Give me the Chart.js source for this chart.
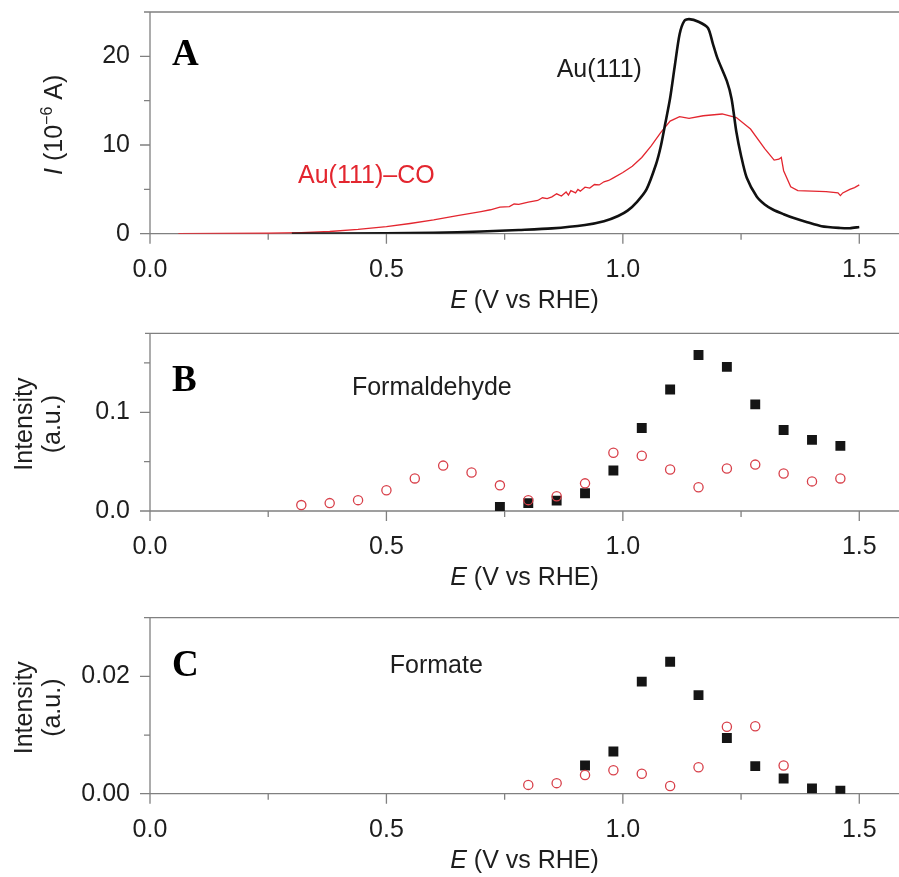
<!DOCTYPE html>
<html>
<head>
<meta charset="utf-8">
<script src="https://cdn.jsdelivr.net/npm/chart.js@4.4.1/dist/chart.umd.min.js"></script>
<style>
  html, body { margin: 0; padding: 0; background: #fff; }
  #fig { position: relative; width: 899px; height: 877px; }
  #fig canvas { position: absolute; left: 0; }
</style>
</head>
<body>
<div id="fig">
  <canvas id="panelA" width="899" height="320" style="top:0"></canvas>
  <canvas id="panelB" width="899" height="280" style="top:320px"></canvas>
  <canvas id="panelC" width="899" height="277" style="top:600px"></canvas>
</div>
<script>
// Panel A: current vs potential (10^-6 A)
const auE = [0.30, 0.50, 0.60, 0.70, 0.78, 0.85, 0.92, 0.96, 0.99, 1.01, 1.03, 1.05, 1.07, 1.08, 1.09, 1.10,
  1.11, 1.12, 1.13, 1.14, 1.16, 1.18, 1.19, 1.20, 1.22, 1.23, 1.24, 1.25, 1.262, 1.283, 1.30, 1.318,
  1.34, 1.36, 1.39, 1.42, 1.46, 1.48, 1.50];
const auI = [0.0, 0.05, 0.1, 0.25, 0.42, 0.6, 0.98, 1.4, 2.0, 2.6, 3.6, 5.0, 7.8, 9.8, 12.5, 15.3,
  19.0, 22.5, 24.0, 24.2, 23.9, 23.2, 21.5, 19.8, 17.2, 15.2, 11.5, 8.8, 6.3, 4.2, 3.3, 2.7,
  2.2, 1.8, 1.3, 0.85, 0.65, 0.62, 0.75];

const coE = [0.06, 0.15, 0.25, 0.32, 0.38, 0.44, 0.50, 0.55, 0.60, 0.65, 0.70, 0.72, 0.74, 0.76, 0.77,
  0.78, 0.80, 0.82, 0.83, 0.84, 0.85, 0.86, 0.87, 0.88, 0.885, 0.89, 0.90, 0.905, 0.91, 0.92, 0.93,
  0.94, 0.95, 0.96, 0.97, 0.98, 1.00, 1.02, 1.04, 1.06, 1.08, 1.10, 1.12, 1.14, 1.17, 1.21, 1.24,
  1.27, 1.30, 1.32, 1.33, 1.335, 1.34, 1.355, 1.37, 1.40, 1.43, 1.455, 1.46, 1.465, 1.48, 1.49, 1.50];
const coI = [0.0, 0.02, 0.05, 0.12, 0.25, 0.48, 0.80, 1.15, 1.55, 2.05, 2.5, 2.7, 3.0, 3.05, 3.35,
  3.3, 3.55, 3.75, 4.05, 3.95, 4.15, 4.5, 4.25, 4.7, 4.35, 4.85, 4.6, 5.0, 4.8, 5.25, 5.15,
  5.55, 5.5, 5.85, 6.0, 6.3, 6.9, 7.6, 8.6, 9.9, 11.4, 12.7, 13.2, 13.0, 13.3, 13.5, 13.1,
  11.8, 9.6, 8.3, 8.4, 8.6, 7.1, 5.3, 4.85, 4.8, 4.75, 4.6, 4.3, 4.6, 5.0, 5.2, 5.5];

// Panel B: formaldehyde intensity
const hchoCoE = [0.32, 0.38, 0.44, 0.50, 0.56, 0.62, 0.68, 0.74, 0.80, 0.86, 0.92, 0.98, 1.04, 1.10,
  1.16, 1.22, 1.28, 1.34, 1.40, 1.46];
const hchoCo = [0.006, 0.008, 0.011, 0.021, 0.033, 0.046, 0.039, 0.026, 0.011, 0.015, 0.028, 0.059,
  0.056, 0.042, 0.024, 0.043, 0.047, 0.038, 0.030, 0.033];
const hchoAuE = [0.74, 0.80, 0.86, 0.92, 0.98, 1.04, 1.10, 1.16, 1.22, 1.28, 1.34, 1.40, 1.46];
const hchoAu = [0.004, 0.008, 0.0105, 0.018, 0.041, 0.084, 0.123, 0.158, 0.146, 0.108, 0.082, 0.072, 0.066];

// Panel C: formate intensity
const hcooCoE = [0.80, 0.86, 0.92, 0.98, 1.04, 1.10, 1.16, 1.22, 1.28, 1.34];
const hcooCo = [0.0015, 0.0018, 0.0032, 0.0040, 0.0034, 0.0013, 0.0045, 0.0114, 0.0115, 0.0048];
const hcooAuE = [0.92, 0.98, 1.04, 1.10, 1.16, 1.22, 1.28, 1.34, 1.40, 1.46];
const hcooAu = [0.0048, 0.0072, 0.0191, 0.0225, 0.0168, 0.0095, 0.0047, 0.0026, 0.0009, 0.0005];

const SANS = '"Liberation Sans", Arial, Helvetica, sans-serif';
const SERIF = '"Liberation Serif", "Times New Roman", serif';
const AXIS = '#808080';
const INK = '#1e1e1e';
const RED = '#e3262f';
const FS = 25;

function pairs(xs, ys) {
  return xs.map((x, i) => ({ x: x, y: ys[i] }));
}

function near(v, step) {
  return Math.abs(v / step - Math.round(v / step)) < 1e-6;
}

// draws a run of mixed-style text centred on x, baseline y
function drawRuns(ctx, runs, x, y) {
  let total = 0;
  runs.forEach(r => { ctx.font = r.font; r.w = ctx.measureText(r.text).width; total += r.w; });
  let cx = x - total / 2;
  ctx.textAlign = 'left';
  ctx.textBaseline = 'alphabetic';
  runs.forEach(r => { ctx.font = r.font; ctx.fillText(r.text, cx, y - (r.rise || 0)); cx += r.w; });
}

const xTitle = [
  { text: 'E', font: `italic ${FS}px ${SANS}` },
  { text: ' (V vs RHE)', font: `${FS}px ${SANS}` }
];

function decorPlugin(d) {
  return {
    id: 'decor',
    beforeDatasetsDraw(chart) {
      const ctx = chart.ctx, a = chart.chartArea, xs = chart.scales.x, ys = chart.scales.y;
      ctx.save();
      ctx.strokeStyle = AXIS;
      ctx.lineWidth = 1.3;
      ctx.beginPath();
      ctx.moveTo(a.left - 5, a.top); ctx.lineTo(a.right, a.top);
      ctx.moveTo(a.left, a.top); ctx.lineTo(a.left, a.bottom);
      ctx.moveTo(a.left, a.bottom); ctx.lineTo(a.right, a.bottom);
      xs.ticks.forEach(t => {
        const p = xs.getPixelForValue(t.value);
        ctx.moveTo(p, a.bottom); ctx.lineTo(p, a.bottom + (t.label ? 10 : 6));
      });
      ys.ticks.forEach(t => {
        const p = ys.getPixelForValue(t.value);
        ctx.moveTo(a.left, p); ctx.lineTo(a.left - (t.label ? 10 : 6), p);
      });
      ctx.stroke();
      ctx.restore();
    },
    afterDraw(chart) {
      const ctx = chart.ctx, a = chart.chartArea, xs = chart.scales.x, ys = chart.scales.y;
      ctx.save();
      // panel letter
      ctx.fillStyle = '#000';
      ctx.font = `bold 37px ${SERIF}`;
      ctx.textAlign = 'left';
      ctx.textBaseline = 'alphabetic';
      ctx.fillText(d.letter, a.left + 22, a.top + d.letterDrop);
      // in-plot notes
      ctx.font = `${FS}px ${SANS}`;
      d.notes.forEach(n => {
        ctx.fillStyle = n.color;
        ctx.fillText(n.text, xs.getPixelForValue(n.x), ys.getPixelForValue(n.y));
      });
      // axis titles
      ctx.fillStyle = INK;
      drawRuns(ctx, xTitle, (a.left + a.right) / 2, a.bottom + 74);
      d.yTitles.forEach(t => {
        ctx.save();
        ctx.translate(t.x, (a.top + a.bottom) / 2 + 2);
        ctx.rotate(-Math.PI / 2);
        drawRuns(ctx, t.runs, 0, 0);
        ctx.restore();
      });
      ctx.restore();
    }
  };
}

function makePanel(id, p) {
  const canvas = document.getElementById(id);
  return new Chart(canvas.getContext('2d'), {
    type: 'scatter',
    data: { datasets: p.datasets },
    options: {
      responsive: false,
      animation: false,
      devicePixelRatio: 1,
      layout: { autoPadding: false, padding: { top: p.padTop, left: 0, right: 0, bottom: 0 } },
      plugins: { legend: { display: false }, tooltip: { enabled: false } },
      scales: {
        x: {
          type: 'linear',
          min: 0,
          max: 1.584,
          grid: { display: false, drawTicks: false },
          border: { display: false },
          afterFit: s => {
            s.height = p.xHeight;
            s.paddingLeft = 0;
            s.paddingRight = 0;
          },
          ticks: {
            stepSize: 0.25,
            includeBounds: false,
            autoSkip: false,
            maxRotation: 0,
            padding: 21,
            color: INK,
            font: { family: SANS, size: FS },
            callback: v => near(v, 0.5) ? v.toFixed(1) : ''
          }
        },
        y: {
          type: 'linear',
          min: 0,
          max: p.yMax,
          grid: { display: false, drawTicks: false },
          border: { display: false },
          afterFit: s => {
            s.width = 150;
            s.paddingTop = 0;
            s.paddingBottom = 0;
          },
          ticks: {
            stepSize: p.yStep,
            includeBounds: false,
            autoSkip: false,
            padding: 20,
            color: INK,
            font: { family: SANS, size: FS },
            callback: p.yLabel
          }
        }
      }
    },
    plugins: [decorPlugin(p.decor)]
  });
}

const circles = (data) => ({
  data: data,
  pointStyle: 'circle',
  pointRadius: 4.6,
  borderWidth: 1.3,
  borderColor: '#d8404a',
  backgroundColor: 'rgba(0,0,0,0)'
});
const squares = (data) => ({
  data: data,
  pointStyle: 'rect',
  pointRadius: 7,
  borderWidth: 0,
  backgroundColor: '#151515',
  borderColor: '#151515'
});

makePanel('panelA', {
  padTop: 12,
  xHeight: 86.3,
  yMax: 25,
  yStep: 5,
  yLabel: v => near(v, 10) ? String(Math.round(v)) : '',
  datasets: [
    { type: 'line', data: pairs(auE, auI), borderColor: '#111', borderWidth: 2.6,
      pointRadius: 0, tension: 0.25, fill: false },
    { type: 'line', data: pairs(coE, coI), borderColor: RED, borderWidth: 1.3,
      pointRadius: 0, tension: 0, fill: false }
  ],
  decor: {
    letter: 'A',
    letterDrop: 53,
    notes: [
      { text: 'Au(111)', x: 0.86, y: 17.7, color: INK },
      { text: 'Au(111)–CO', x: 0.313, y: 5.7, color: RED }
    ],
    yTitles: [
      { x: 62, runs: [
        { text: 'I', font: `italic ${FS}px ${SANS}` },
        { text: ' (10', font: `${FS}px ${SANS}` },
        { text: '−6', font: `16px ${SANS}`, rise: 10 },
        { text: ' A)', font: `${FS}px ${SANS}` }
      ] }
    ]
  }
});

const intensityTitles = [
  { x: 32, runs: [{ text: 'Intensity', font: `${FS}px ${SANS}` }] },
  { x: 60, runs: [{ text: '(a.u.)', font: `${FS}px ${SANS}` }] }
];

makePanel('panelB', {
  padTop: 13.3,
  xHeight: 89,
  yMax: 0.18,
  yStep: 0.05,
  yLabel: v => near(v, 0.1) ? v.toFixed(1) : '',
  datasets: [circles(pairs(hchoCoE, hchoCo)), squares(pairs(hchoAuE, hchoAu))],
  decor: {
    letter: 'B',
    letterDrop: 58,
    notes: [{ text: 'Formaldehyde', x: 0.427, y: 0.118, color: INK }],
    yTitles: intensityTitles
  }
});

makePanel('panelC', {
  padTop: 17.7,
  xHeight: 83.3,
  yMax: 0.03,
  yStep: 0.01,
  yLabel: v => near(v, 0.02) ? v.toFixed(2) : '',
  datasets: [circles(pairs(hcooCoE, hcooCo)), squares(pairs(hcooAuE, hcooAu))],
  decor: {
    letter: 'C',
    letterDrop: 58,
    notes: [{ text: 'Formate', x: 0.507, y: 0.0206, color: INK }],
    yTitles: intensityTitles
  }
});
</script>
</body>
</html>
